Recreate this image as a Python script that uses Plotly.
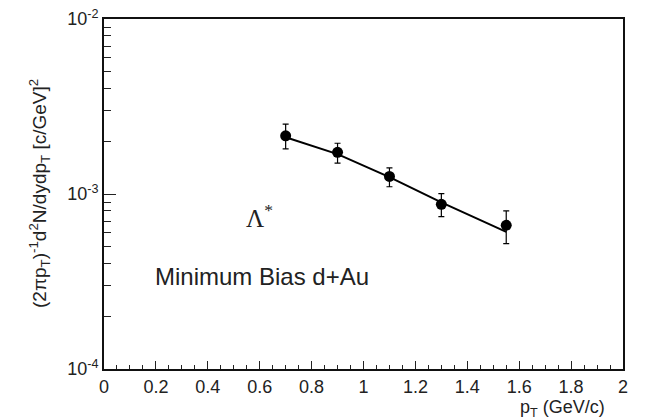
import plotly.graph_objects as go

# data
pt = [0.70, 0.90, 1.10, 1.30, 1.55]
yield_vals = [2.15e-3, 1.73e-3, 1.26e-3, 8.73e-4, 6.62e-4]
err_up = [2.51e-3, 1.95e-3, 1.41e-3, 1.005e-3, 8.0e-4]
err_lo = [1.81e-3, 1.50e-3, 1.10e-3, 7.42e-4, 5.2e-4]

fit_pt = [0.70, 0.90, 1.10, 1.30, 1.55]
fit_vals = [2.11e-3, 1.69e-3, 1.25e-3, 8.95e-4, 6.07e-4]

x_tickvals = [0, 0.2, 0.4, 0.6, 0.8, 1.0, 1.2, 1.4, 1.6, 1.8, 2.0]
x_ticktext = ["0", "0.2", "0.4", "0.6", "0.8", "1", "1.2", "1.4", "1.6", "1.8", "2"]
y_tickvals = [1e-4, 1e-3, 1e-2]
y_ticktext = ["10<sup>-4</sup>", "10<sup>-3</sup>", "10<sup>-2</sup>"]

plus = [u - v for u, v in zip(err_up, yield_vals)]
minus = [v - l for v, l in zip(yield_vals, err_lo)]

FONT = "Liberation Sans, Arial, sans-serif"

fig = go.Figure()
fig.add_trace(go.Scatter(
    x=fit_pt, y=fit_vals, mode="lines",
    line=dict(color="black", width=2), showlegend=False, hoverinfo="skip"))
fig.add_trace(go.Scatter(
    x=pt, y=yield_vals, mode="markers",
    marker=dict(color="black", size=11, symbol="circle"),
    error_y=dict(type="data", array=plus, arrayminus=minus, symmetric=False,
                 color="black", thickness=1.2, width=3),
    showlegend=False))

fig.update_layout(
    width=654, height=420,
    margin=dict(l=96, r=39, t=11, b=59, autoexpand=False),
    paper_bgcolor="white", plot_bgcolor="white",
    font=dict(family=FONT, size=18, color="#222222"),
    xaxis=dict(range=[0, 2], tickvals=x_tickvals, ticktext=x_ticktext,
               ticks="inside", ticklen=8, tickwidth=1, tickcolor="#222",
               minor=dict(dtick=0.05, tick0=0, ticks="inside", ticklen=4, tickcolor="#222"),
               showline=True, linecolor="#111", linewidth=2, mirror=True,
               showgrid=False, zeroline=False, automargin=False,
               ticklabeloverflow="allow", ticklabelstandoff=0,
               tickfont=dict(size=18)),
    yaxis=dict(type="log", range=[-4, -2], tickvals=y_tickvals, ticktext=y_ticktext,
               ticks="inside", ticklen=12, tickwidth=1, tickcolor="#222",
               minor=dict(dtick="D1", ticks="inside", ticklen=7, tickcolor="#222"),
               showline=True, linecolor="#111", linewidth=2, mirror=True,
               showgrid=False, zeroline=False, automargin=False,
               ticklabeloverflow="allow",
               tickfont=dict(size=18)),
)

fig.add_annotation(
    text="p<sub>T</sub> (GeV/c)", xref="paper", yref="paper",
    x=(599 - 96) / 519, y=(361 - 400) / 350, xanchor="right", yanchor="middle",
    showarrow=False, font=dict(size=18, family=FONT, color="#222"))
fig.add_annotation(
    text="(2πp<sub>T</sub>)<sup>-1</sup>d<sup>2</sup>N/dydp<sub>T</sub> [c/GeV]<sup>2</sup>",
    xref="paper", yref="paper", x=(31 - 96) / 519, y=(361 - 186) / 350,
    xanchor="center", yanchor="middle", textangle=-90,
    showarrow=False, font=dict(size=19, family=FONT, color="#222"))
fig.add_annotation(
    text="Λ<sup>*</sup>", xref="x", yref="y", x=0.60, y=-3.126,
    xanchor="center", yanchor="middle", showarrow=False,
    font=dict(size=25, family="Liberation Serif, Times New Roman, serif", color="#222"))
fig.add_annotation(
    text="Minimum Bias d+Au", xref="x", yref="y", x=0.189, y=-3.469,
    xanchor="left", yanchor="middle", showarrow=False,
    font=dict(size=24, family=FONT, color="#222"))

fig.write_html("out.html")
